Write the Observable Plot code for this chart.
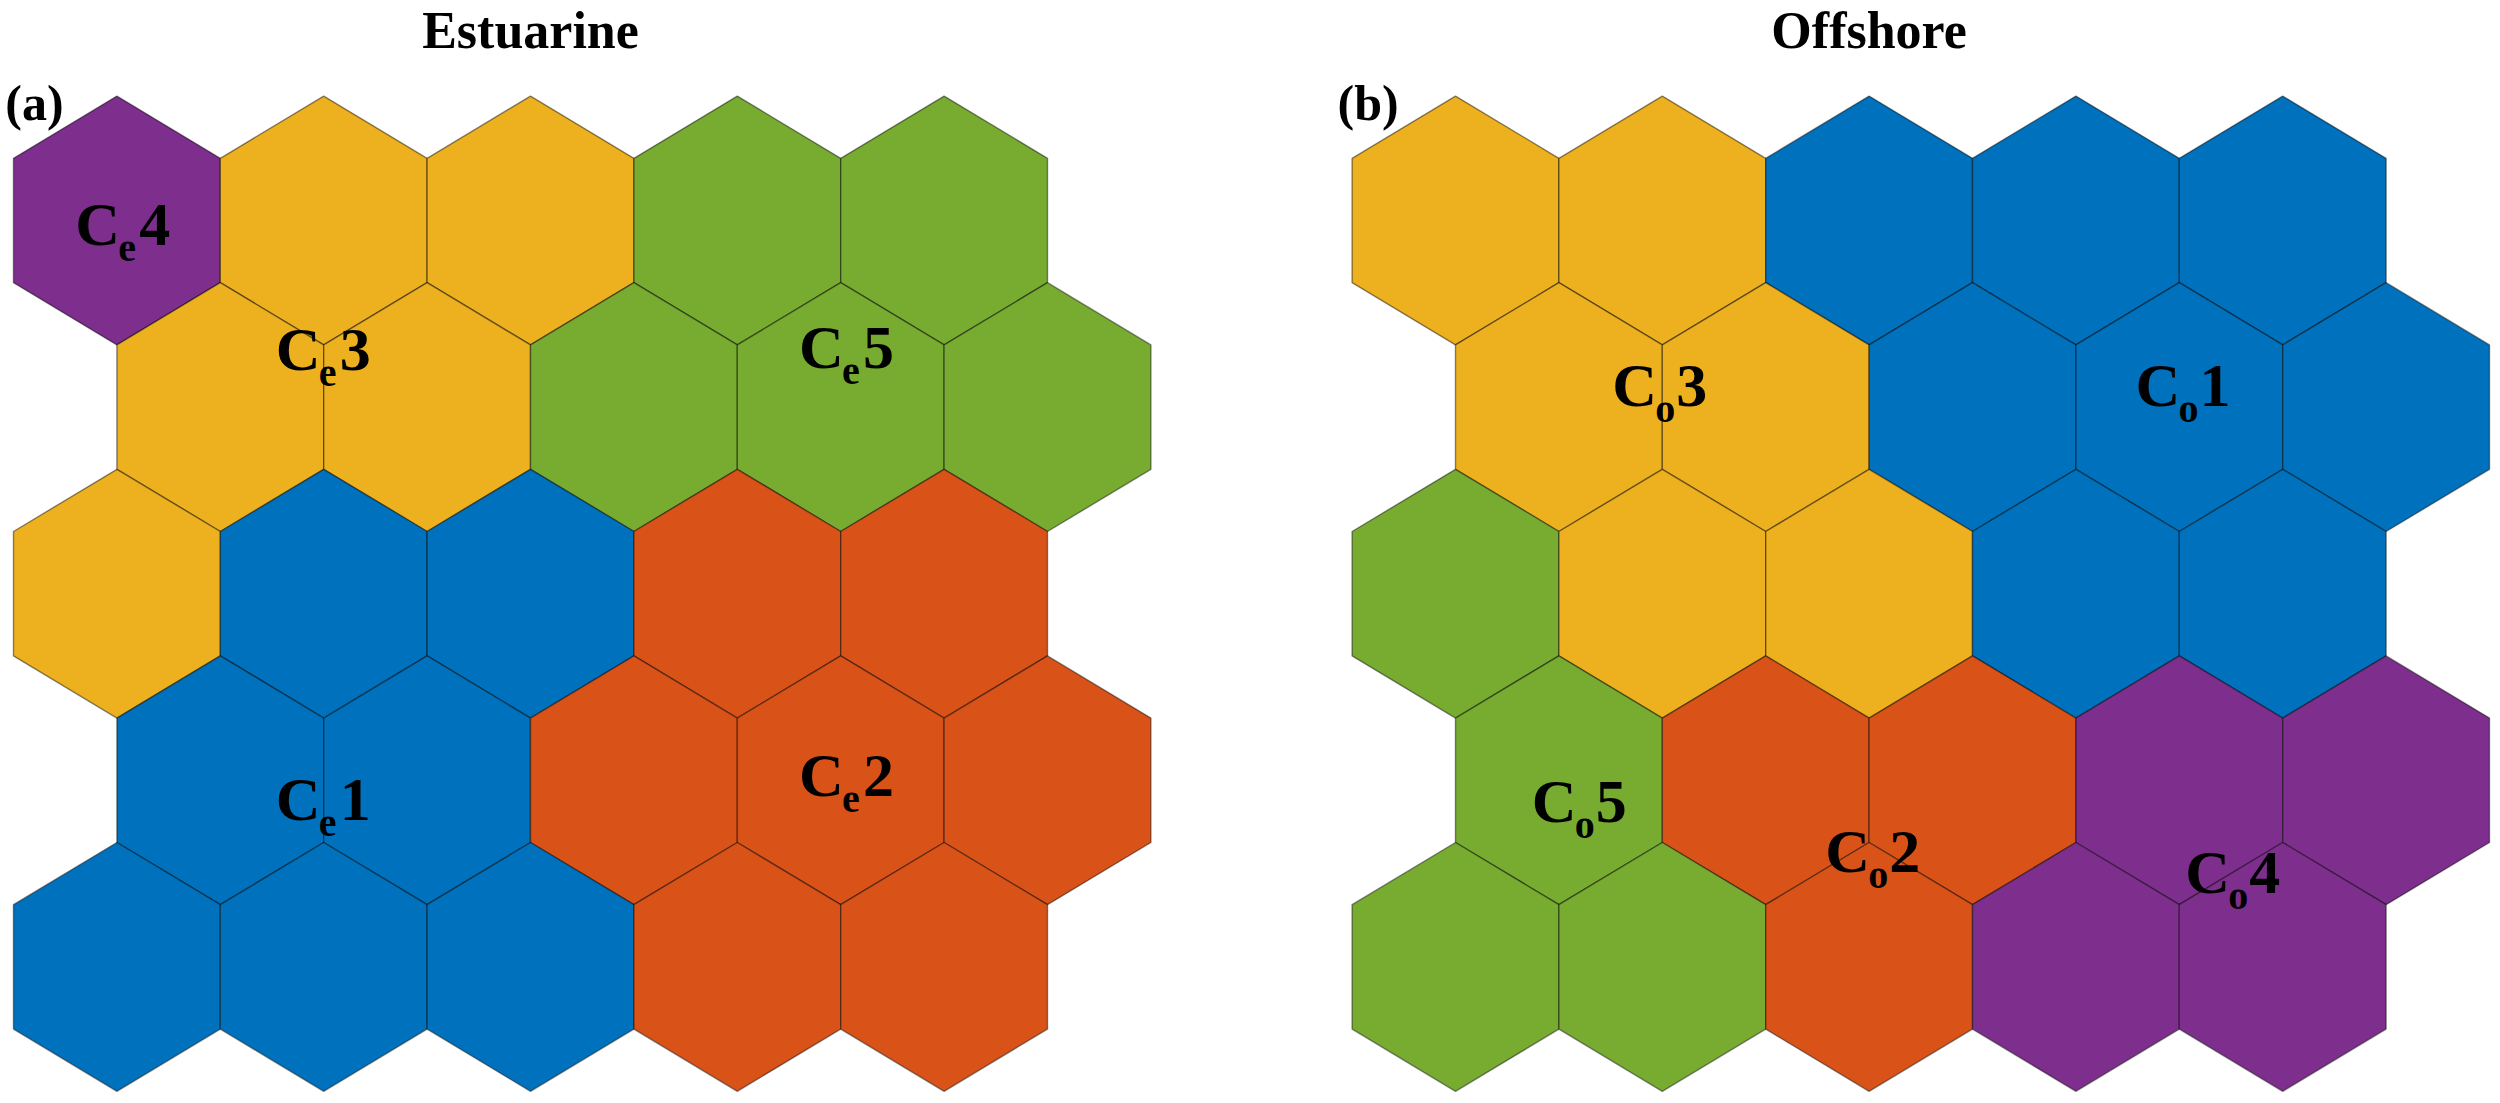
<!DOCTYPE html>
<html>
<head>
<meta charset="utf-8">
<script src="https://cdn.jsdelivr.net/npm/d3@7"></script>
<script src="https://cdn.jsdelivr.net/npm/@observablehq/plot@0.6"></script>
<style>
  body { margin: 0; background: #fff; }
  #chart { display: flex; width: 2500px; height: 1103px; }
</style>
</head>
<body>
<div id="chart"></div>
<script>
// ---- data ----
const panelTitles = ["Estuarine", "Offshore"];
const panelTags = ["(a)", "(b)"];
const panelSubs = ["e", "o"];
const clusterIds = [1, 2, 3, 4, 5];
const clusterColors = ["#0072BD", "#D95319", "#EDB120", "#7E2F8E", "#77AC30"];

// SOM node cluster membership, 5 rows x 5 columns (row 0 = top, odd rows shifted right)
const estuarineGrid = [
  [4, 3, 3, 5, 5],
  [3, 3, 5, 5, 5],
  [3, 1, 1, 2, 2],
  [1, 1, 2, 2, 2],
  [1, 1, 1, 2, 2]
];
const offshoreGrid = [
  [3, 3, 1, 1, 1],
  [3, 3, 1, 1, 1],
  [5, 3, 3, 1, 1],
  [5, 2, 2, 4, 4],
  [5, 5, 2, 4, 4]
];

// cluster label positions (grid units: column, row)
const estuarineLabelIds = [4, 3, 5, 1, 2];
const estuarineLabelX = [0.04, 1.01, 3.54, 1.01, 3.54];
const estuarineLabelY = [0.02, 0.69, 0.68, 3.10, 2.97];
const offshoreLabelIds = [3, 1, 5, 2, 4];
const offshoreLabelX = [1.00, 3.53, 0.61, 2.03, 3.77];
const offshoreLabelY = [0.88, 0.88, 3.11, 3.38, 3.49];

// ---- build hexagon outlines from the grid ----
const hexCorners = [[0, -2/3], [0.5, -1/3], [0.5, 1/3], [0, 2/3], [-0.5, 1/3], [-0.5, -1/3]];
function hexVertices(grid) {
  const out = [];
  grid.forEach((row, r) => row.forEach((k, c) => {
    const cx = c + (r % 2 ? 0.5 : 0);
    hexCorners.forEach(([dx, dy]) => out.push({id: r + "-" + c, cluster: k, x: cx + dx, y: r + dy}));
  }));
  return out;
}

const panelGrids = [estuarineGrid, offshoreGrid];
const panelLabelIds = [estuarineLabelIds, offshoreLabelIds];
const panelLabelX = [estuarineLabelX, offshoreLabelX];
const panelLabelY = [estuarineLabelY, offshoreLabelY];
const panelXStart = [116.4, 205];     // pixel of column 0 centre inside each svg
const tagX = [-0.54, -0.57];
const colPx = 206.8, rowPx = 186.6, row0Px = 220;

const font = "'Liberation Serif', 'Times New Roman', serif";

panelTitles.forEach((title, p) => {
  const verts = hexVertices(panelGrids[p]);
  const idx = panelLabelIds[p].map((_, i) => i);
  const lx = panelLabelX[p], ly = panelLabelY[p], lid = panelLabelIds[p];
  const x0 = panelXStart[p];
  const chart = Plot.plot({
    width: 1250,
    height: 1103,
    x: {domain: [0, 1], range: [x0, x0 + colPx], axis: null},
    y: {domain: [0, 1], range: [row0Px, row0Px + rowPx], axis: null},
    color: {type: "ordinal", domain: clusterIds, range: clusterColors},
    style: {fontFamily: font, background: "white"},
    marks: [
      Plot.line(verts, {
        x: "x", y: "y", z: "id", fill: "cluster",
        stroke: "#000", strokeOpacity: 0.45, strokeWidth: 1.4,
        curve: "linear-closed"
      }),
      // labels: C + subscript + number
      Plot.text(idx, {x: i => lx[i], y: i => ly[i], text: () => "C",
        textAnchor: "start", lineAnchor: "bottom", dx: -50, dy: 21,
        fontSize: 62, fontWeight: "bold", fill: "#000"}),
      Plot.text(idx, {x: i => lx[i], y: i => ly[i], text: () => panelSubs[p],
        textAnchor: "start", lineAnchor: "bottom", dx: -7, dy: 37,
        fontSize: 40, fontWeight: "bold", fill: "#000"}),
      Plot.text(idx, {x: i => lx[i], y: i => ly[i], text: i => String(lid[i]),
        textAnchor: "start", lineAnchor: "bottom", dx: 14, dy: 21,
        fontSize: 62, fontWeight: "bold", fill: "#000"}),
      // title & panel tag
      Plot.text([title], {x: () => 2, y: () => -0.925, text: d => d,
        textAnchor: "middle", lineAnchor: "bottom",
        fontSize: 52, fontWeight: "bold", fill: "#000"}),
      Plot.text([panelTags[p]], {x: () => tagX[p], y: () => -0.536, text: d => d,
        textAnchor: "start", lineAnchor: "bottom",
        fontSize: 50, fontWeight: "bold", fill: "#000"})
    ]
  });
  document.getElementById("chart").appendChild(chart);
});
</script>
</body>
</html>
